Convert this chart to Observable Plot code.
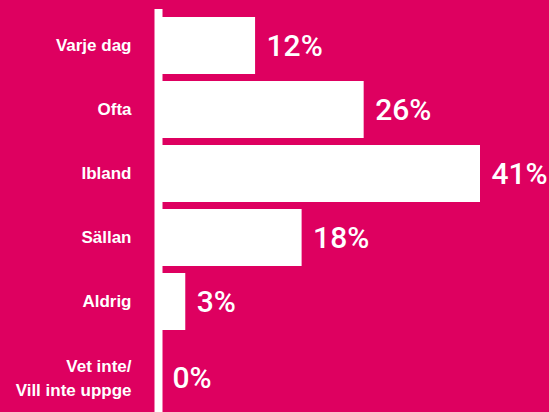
<!DOCTYPE html>
<html>
<head>
<meta charset="utf-8">
<script src="https://cdn.jsdelivr.net/npm/d3@7"></script>
<script src="https://cdn.jsdelivr.net/npm/@observablehq/plot@0.6"></script>
<style>
  html, body { margin: 0; padding: 0; background: #de0060; }
  #chart svg { display: block; }
</style>
</head>
<body>
<div id="chart"></div>
<script>
const categories = ["Varje dag", "Ofta", "Ibland", "Sällan", "Aldrig", "Vet inte/\nVill inte uppge"];
const values = [12, 26, 41, 18, 3, 0];
const valueLabels = ["12%", "26%", "41%", "18%", "3%", "0%"];

const data = categories.map((c, i) => ({cat: c, value: values[i], label: valueLabels[i]}));
const mainRows = data.slice(0, 5);
const lastRow = data.slice(5);

const bg = "#de0060";
const numFont = "Roboto, Liberation Sans, Arial, sans-serif";

const chart = Plot.plot({
  width: 549,
  height: 412,
  marginLeft: 162,
  marginRight: 69,
  marginTop: 9,
  marginBottom: 10,
  style: {background: bg, fontFamily: "Liberation Sans, Arial, sans-serif", color: "white"},
  x: {domain: [0, 41], axis: null},
  y: {domain: categories, axis: null, padding: 0.11},
  marks: [
    Plot.barX(data, {x: "value", y: "cat", fill: "white"}),
    Plot.ruleX([0], {stroke: "white", strokeWidth: 8, dx: -4, insetBottom: -11}),
    Plot.text(mainRows, {x: 0, y: "cat", text: "cat", textAnchor: "end", dx: -31, fill: "white", fontWeight: "bold", fontSize: 17}),
    Plot.text(lastRow, {x: 0, y: "cat", text: "cat", textAnchor: "end", dx: -31, dy: 10, fill: "white", fontWeight: "bold", fontSize: 17, lineHeight: 1.47}),
    Plot.text(mainRows, {x: "value", y: "cat", text: "label", textAnchor: "start", dx: 11, fill: "white", fontSize: 30, fontWeight: 500, fontFamily: numFont}),
    Plot.text(lastRow, {x: "value", y: "cat", text: "label", textAnchor: "start", dx: 10, dy: 12, fill: "white", fontSize: 30, fontWeight: 500, fontFamily: numFont})
  ]
});
document.getElementById("chart").appendChild(chart);
</script>
</body>
</html>
